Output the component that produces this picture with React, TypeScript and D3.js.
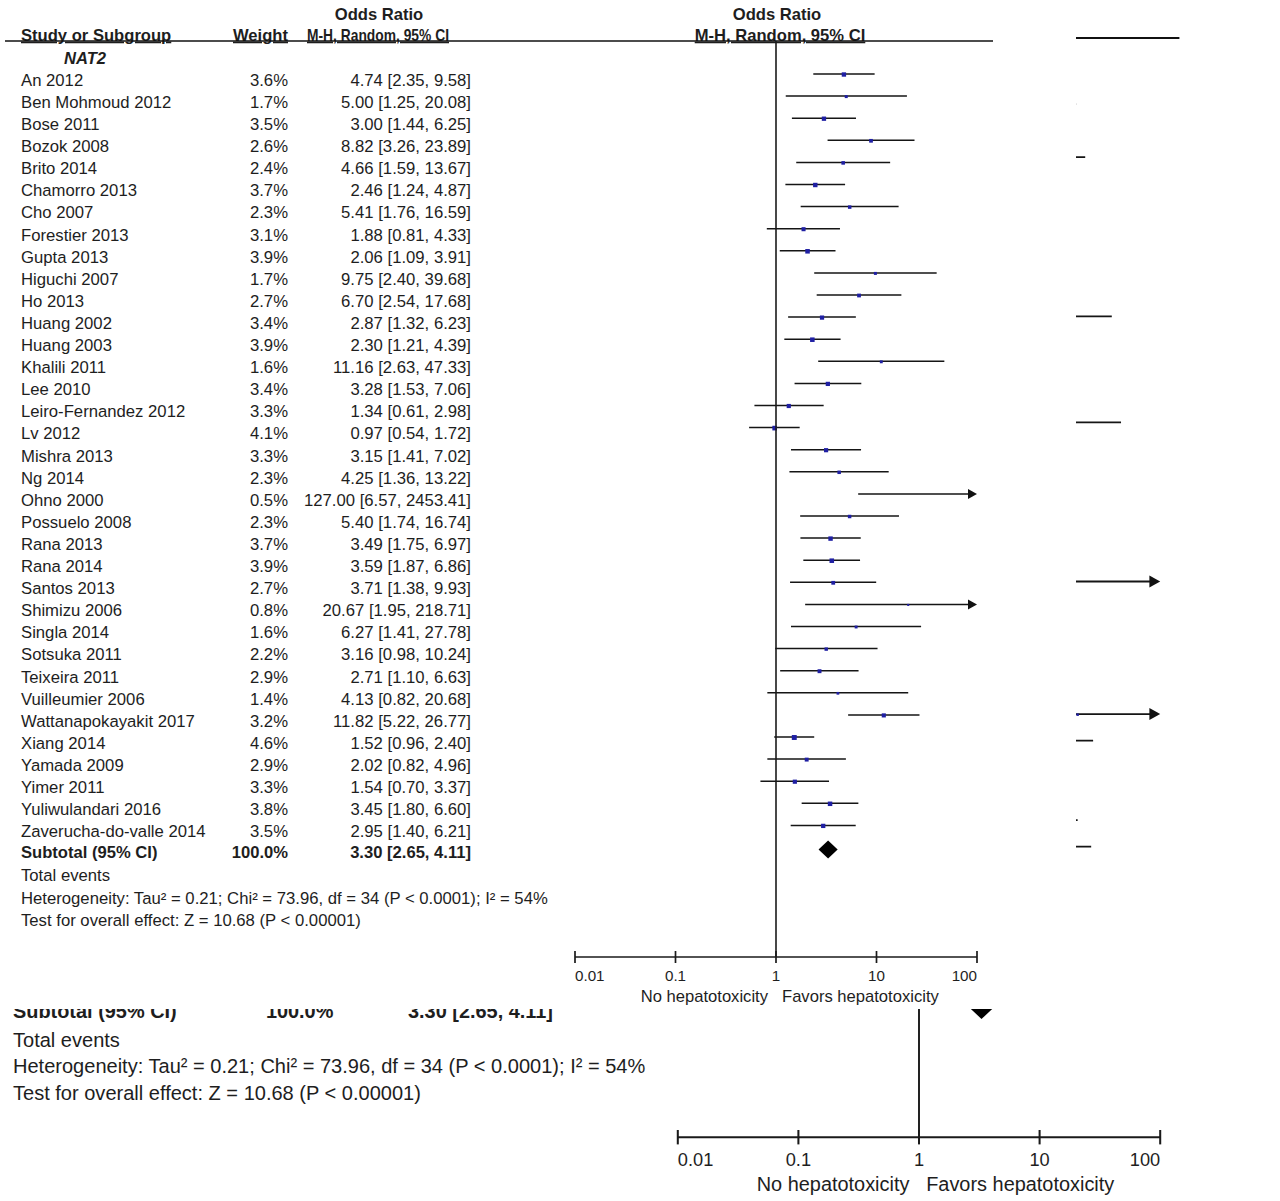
import React from "react";
import * as d3 from "d3";

const studies = [
  "An 2012", "Ben Mohmoud 2012", "Bose 2011", "Bozok 2008", "Brito 2014", "Chamorro 2013",
  "Cho 2007", "Forestier 2013", "Gupta 2013", "Higuchi 2007", "Ho 2013", "Huang 2002",
  "Huang 2003", "Khalili 2011", "Lee 2010", "Leiro-Fernandez 2012", "Lv 2012", "Mishra 2013",
  "Ng 2014", "Ohno 2000", "Possuelo 2008", "Rana 2013", "Rana 2014", "Santos 2013",
  "Shimizu 2006", "Singla 2014", "Sotsuka 2011", "Teixeira 2011", "Vuilleumier 2006",
  "Wattanapokayakit 2017", "Xiang 2014", "Yamada 2009", "Yimer 2011", "Yuliwulandari 2016",
  "Zaverucha-do-valle 2014",
];
const weights = [
  3.6, 1.7, 3.5, 2.6, 2.4, 3.7, 2.3, 3.1, 3.9, 1.7, 2.7, 3.4, 3.9, 1.6, 3.4, 3.3, 4.1, 3.3,
  2.3, 0.5, 2.3, 3.7, 3.9, 2.7, 0.8, 1.6, 2.2, 2.9, 1.4, 3.2, 4.6, 2.9, 3.3, 3.8, 3.5,
];
const oddsRatios = [
  4.74, 5.0, 3.0, 8.82, 4.66, 2.46, 5.41, 1.88, 2.06, 9.75, 6.7, 2.87, 2.3, 11.16, 3.28, 1.34,
  0.97, 3.15, 4.25, 127.0, 5.4, 3.49, 3.59, 3.71, 20.67, 6.27, 3.16, 2.71, 4.13, 11.82, 1.52,
  2.02, 1.54, 3.45, 2.95,
];
const lowerCI = [
  2.35, 1.25, 1.44, 3.26, 1.59, 1.24, 1.76, 0.81, 1.09, 2.4, 2.54, 1.32, 1.21, 2.63, 1.53, 0.61,
  0.54, 1.41, 1.36, 6.57, 1.74, 1.75, 1.87, 1.38, 1.95, 1.41, 0.98, 1.1, 0.82, 5.22, 0.96, 0.82,
  0.7, 1.8, 1.4,
];
const upperCI = [
  9.58, 20.08, 6.25, 23.89, 13.67, 4.87, 16.59, 4.33, 3.91, 39.68, 17.68, 6.23, 4.39, 47.33,
  7.06, 2.98, 1.72, 7.02, 13.22, 2453.41, 16.74, 6.97, 6.86, 9.93, 218.71, 27.78, 10.24, 6.63,
  20.68, 26.77, 2.4, 4.96, 3.37, 6.6, 6.21,
];
const subtotal = { label: "Subtotal (95% CI)", weight: "100.0%", or: 3.3, lo: 2.65, hi: 4.11 };
const footerLines = [
  "Total events",
  "Heterogeneity: Tau\u00b2 = 0.21; Chi\u00b2 = 73.96, df = 34 (P < 0.0001); I\u00b2 = 54%",
  "Test for overall effect: Z = 10.68 (P < 0.00001)",
];
const tickValues = [0.01, 0.1, 1, 10, 100];
const tickLabels = ["0.01", "0.1", "1", "10", "100"];
const leftLabel = "No hepatotoxicity";
const rightLabel = "Favors hepatotoxicity";
const groupLabel = "NAT2";

const FONT = "'Liberation Sans', Arial, Helvetica, sans-serif";
const TEXT = "#1e1e1e";
const MARK = "#1f1fa3";

const fmt = (v: number) => v.toFixed(2);

const x = d3.scaleLog().domain([0.01, 100]).range([575, 977]);
const row = d3.scaleLinear().domain([0, 34]).range([80, 831.4]);
const [xMin, xMax] = x.range();

function Forest({ transform }: { transform?: string }) {
  const fs = 16.7;
  const hfs = 16.6;
  const lineOff = -6;
  const headerRuleY = 41;
  const axisY = 957;
  return (
    <g transform={transform} fontFamily={FONT} fill={TEXT}>
      <g fontWeight="bold" fontSize={hfs}>
        <text x={379} y={row(-3)} dy="0.35em" textAnchor="middle">Odds Ratio</text>
        <text x={x(1) + 1} y={row(-3)} dy="0.35em" textAnchor="middle">Odds Ratio</text>
        <text x={21} y={row(-2) - 1} dy="0.35em" textDecoration="underline">Study or Subgroup</text>
        <text x={288} y={row(-2) - 1} dy="0.35em" textAnchor="end" textDecoration="underline">Weight</text>
        <text
          x={307}
          y={row(-2) - 1}
          dy="0.35em"
          textDecoration="underline"
          textLength={142}
          lengthAdjust="spacingAndGlyphs"
        >
          M-H, Random, 95% CI
        </text>
        <text x={x(1) + 4} y={row(-2) - 1} dy="0.35em" textAnchor="middle" textDecoration="underline">
          M-H, Random, 95% CI
        </text>
        <text x={64} y={row(-1)} dy="0.35em" fontStyle="italic">{groupLabel}</text>
      </g>
      <line x1={5} x2={993} y1={headerRuleY} y2={headerRuleY} stroke="#111" strokeWidth={1.7} />

      {/* study rows */}
      {studies.map((s, i) => {
        const y = row(i);
        const ly = y + lineOff;
        const lo = lowerCI[i];
        const hi = upperCI[i];
        const xl = x(Math.max(lo, 0.01));
        const xh = x(Math.min(hi, 100));
        const side = 2.3 * Math.sqrt(weights[i]);
        const inRange = oddsRatios[i] >= 0.01 && oddsRatios[i] <= 100;
        return (
          <g key={s}>
            <g fontSize={fs}>
              <text x={21} y={y} dy="0.35em">{s}</text>
              <text x={288} y={y} dy="0.35em" textAnchor="end">{weights[i].toFixed(1)}%</text>
              <text x={471} y={y} dy="0.35em" textAnchor="end">
                {`${fmt(oddsRatios[i])} [${fmt(lo)}, ${fmt(hi)}]`}
              </text>
            </g>
            <line x1={xl} x2={hi > 100 ? xh - 8 : xh} y1={ly} y2={ly} stroke="#151515" strokeWidth={1.5} />
            {hi > 100 && (
              <path d={`M${xh},${ly} L${xh - 9},${ly - 5} L${xh - 9},${ly + 5} Z`} fill="#111" />
            )}
            {lo < 0.01 && (
              <path d={`M${xl},${ly} L${xl + 9},${ly - 5} L${xl + 9},${ly + 5} Z`} fill="#111" />
            )}
            {inRange && (
              <rect
                x={x(oddsRatios[i]) - side / 2}
                y={ly - side / 2 + 0.5}
                width={side}
                height={side}
                fill={MARK}
              />
            )}
          </g>
        );
      })}

      {/* subtotal */}
      <g fontWeight="bold" fontSize={hfs}>
        <text x={21} y={row(35) - 1.5} dy="0.35em">{subtotal.label}</text>
        <text x={288} y={row(35) - 1.5} dy="0.35em" textAnchor="end">{subtotal.weight}</text>
        <text x={471} y={row(35) - 1.5} dy="0.35em" textAnchor="end">
          {`${fmt(subtotal.or)} [${fmt(subtotal.lo)}, ${fmt(subtotal.hi)}]`}
        </text>
      </g>
      <path
        d={`M${x(subtotal.lo)},${row(35) - 4} L${x(subtotal.or)},${row(35) - 13} L${x(subtotal.hi)},${row(35) - 4} L${x(subtotal.or)},${row(35) + 5} Z`}
        fill="#000"
      />

      {/* footer */}
      {footerLines.map((t, k) => (
        <text key={t} x={21} y={row(36 + k)} dy="0.35em" fontSize={fs}>{t}</text>
      ))}

      {/* null line */}
      <line x1={x(1)} x2={x(1)} y1={headerRuleY} y2={axisY} stroke="#1a1a1a" strokeWidth={1.6} />

      {/* axis */}
      <line x1={xMin} x2={xMax} y1={axisY} y2={axisY} stroke="#1a1a1a" strokeWidth={1.7} />
      {tickValues.map((v, k) => (
        <g key={v}>
          <line x1={x(v)} x2={x(v)} y1={axisY - 6} y2={axisY + 6} stroke="#1a1a1a" strokeWidth={1.7} />
          <text
            x={x(v)}
            y={axisY + 19}
            dy="0.35em"
            fontSize={15.2}
            textAnchor={k === 0 ? "start" : k === tickValues.length - 1 ? "end" : "middle"}
          >
            {tickLabels[k]}
          </text>
        </g>
      ))}
      <text x={x(1) - 8} y={axisY + 39} dy="0.35em" textAnchor="end" fontSize={16.6}>{leftLabel}</text>
      <text x={x(1) + 6} y={axisY + 39} dy="0.35em" textAnchor="start" fontSize={16.6}>{rightLabel}</text>
    </g>
  );
}

export default function App() {
  return (
    <svg
      width={1280}
      height={1201}
      style={{ position: "absolute", left: 0, top: 0, background: "#fff" }}
    >
      <rect width={1280} height={1201} fill="#fff" />
      <Forest transform="translate(-12.2,-11.2) scale(1.2)" />
      <rect x={0} y={0} width={1076} height={1009} fill="#fff" />
      <Forest />
    </svg>
  );
}
